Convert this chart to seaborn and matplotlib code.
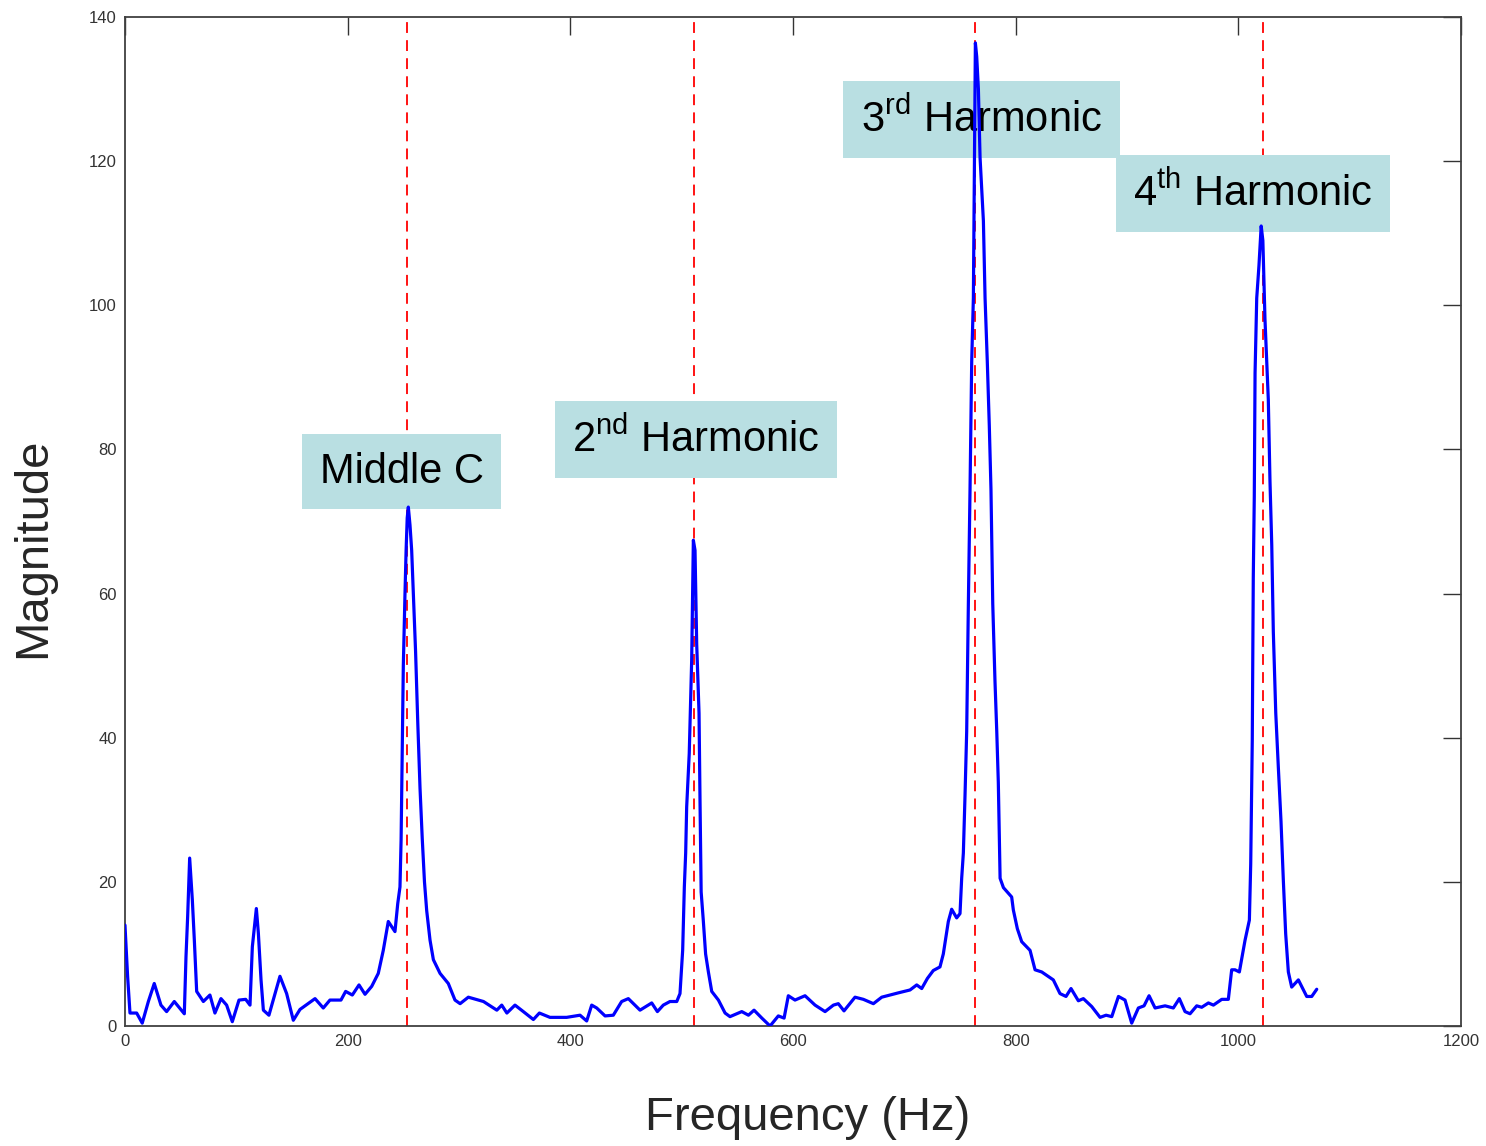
import matplotlib
matplotlib.use("Agg")
import matplotlib.pyplot as plt
import seaborn as sns

# Spectrum of a piano note
freq_hz = [
    0.0, 2.4, 4.5, 10.5, 15.5, 21.0, 26.3, 32.3, 37.4, 44.3,
    53.3, 54.8, 56.3, 58.1, 60.5, 62.3, 64.4, 70.4, 76.3, 80.8,
    86.2, 91.3, 96.4, 102.4, 108.4, 112.3, 114.4, 118.0, 119.8, 122.2,
    124.3, 129.3, 139.2, 145.2, 151.2, 157.2, 170.7, 178.1, 184.1, 194.0,
    198.2, 204.2, 210.2, 215.6, 221.6, 227.5, 232.0, 236.5, 242.5, 245.0,
    247.0, 248.0, 249.0, 250.0, 251.5, 252.5, 253.5, 254.5, 256.0, 257.5,
    259.0, 261.0, 263.0, 265.0, 267.0, 269.0, 271.0, 274.0, 277.0, 283.0,
    290.4, 296.4, 301.0, 308.4, 322.0, 334.0, 338.4, 343.0, 350.3, 357.8,
    366.8, 372.2, 381.7, 396.7, 408.7, 414.7, 419.2, 423.7, 431.2, 438.6,
    446.1, 452.1, 462.6, 473.1, 478.2, 483.5, 489.5, 495.6, 498.5, 500.9,
    502.4, 503.6, 504.5, 506.8, 509.0, 510.5, 512.0, 513.5, 515.6, 516.5,
    517.5, 519.4, 521.5, 524.0, 527.0, 533.0, 539.0, 543.4, 554.0, 560.0,
    565.0, 572.0, 579.4, 586.8, 592.0, 595.8, 601.8, 610.8, 619.8, 628.8,
    636.3, 640.7, 645.8, 655.7, 663.2, 672.2, 679.7, 694.6, 705.1, 711.1,
    715.6, 720.7, 726.0, 732.0, 735.0, 739.5, 742.5, 747.0, 750.0, 751.5,
    753.0, 754.5, 756.0, 757.5, 759.0, 760.5, 762.0, 763.0, 763.8, 765.0,
    766.5, 768.0, 771.0, 772.5, 774.5, 776.3, 777.8, 779.4, 781.4, 783.0,
    784.4, 786.0, 789.0, 796.4, 797.9, 801.5, 805.4, 812.9, 817.4, 823.4,
    833.8, 839.8, 845.2, 849.7, 856.3, 860.8, 868.3, 875.8, 881.2, 886.3,
    892.3, 898.2, 904.2, 910.2, 915.3, 919.8, 925.2, 934.2, 941.6, 947.0,
    952.1, 956.6, 962.6, 967.1, 973.1, 977.6, 985.1, 991.0, 994.0, 997.0,
    1000.9, 1006.0, 1009.9, 1011.1, 1012.5, 1013.4, 1014.3, 1015.0, 1016.5, 1018.5,
    1020.5, 1022.0, 1023.9, 1026.9, 1028.4, 1030.0, 1031.4, 1033.6, 1035.9, 1038.3,
    1040.4, 1042.5, 1044.9, 1047.9, 1053.9, 1061.4, 1065.9, 1070.4,
]
magnitude = [
    14.0, 6.8, 1.8, 1.8, 0.4, 3.4, 5.9, 2.9, 2.0, 3.4,
    1.7, 9.6, 15.2, 23.3, 17.5, 11.9, 4.8, 3.4, 4.3, 1.8,
    3.8, 2.9, 0.6, 3.6, 3.7, 2.9, 11.0, 16.3, 12.9, 6.4,
    2.2, 1.5, 6.9, 4.5, 0.8, 2.3, 3.8, 2.5, 3.6, 3.6,
    4.8, 4.3, 5.7, 4.4, 5.5, 7.3, 10.5, 14.5, 13.1, 17.0,
    19.3, 25.8, 38.0, 50.0, 60.0, 66.0, 70.5, 72.0, 69.5, 66.0,
    60.0, 52.0, 42.0, 33.0, 26.0, 20.0, 16.0, 11.9, 9.2, 7.3,
    5.9, 3.6, 3.1, 4.0, 3.4, 2.2, 2.9, 1.8, 2.9, 2.0,
    0.9, 1.8, 1.2, 1.2, 1.5, 0.7, 2.9, 2.5, 1.4, 1.5,
    3.4, 3.8, 2.2, 3.2, 2.0, 2.9, 3.4, 3.4, 4.5, 10.5,
    19.3, 24.0, 30.4, 37.8, 50.8, 67.4, 66.0, 53.0, 43.4, 31.0,
    18.6, 14.7, 10.0, 7.5, 4.8, 3.6, 1.8, 1.3, 2.0, 1.5,
    2.2, 1.1, 0.0, 1.4, 1.1, 4.2, 3.6, 4.2, 2.9, 2.0,
    2.9, 3.1, 2.1, 4.0, 3.7, 3.1, 4.0, 4.6, 5.0, 5.7,
    5.2, 6.6, 7.7, 8.2, 10.0, 14.5, 16.2, 15.0, 15.6, 20.5,
    24.0, 32.0, 40.9, 58.6, 74.5, 92.2, 101.0, 120.0, 136.4, 134.5,
    130.0, 120.5, 111.7, 101.0, 92.2, 83.3, 74.5, 58.6, 47.9, 40.9,
    33.8, 20.5, 19.2, 17.9, 16.1, 13.5, 11.7, 10.5, 7.8, 7.5,
    6.4, 4.5, 4.1, 5.2, 3.5, 3.8, 2.7, 1.2, 1.5, 1.3,
    4.1, 3.6, 0.4, 2.5, 2.8, 4.2, 2.5, 2.8, 2.5, 3.8,
    2.0, 1.7, 2.8, 2.6, 3.2, 2.9, 3.7, 3.7, 7.8, 7.8,
    7.5, 11.9, 14.7, 22.5, 39.7, 62.2, 73.4, 90.6, 101.0, 105.5,
    111.0, 109.0, 98.1, 86.9, 75.6, 66.7, 54.7, 43.4, 35.9, 28.4,
    20.2, 12.8, 7.5, 5.4, 6.4, 4.1, 4.1, 5.1,
]

harmonic_hz = [253.5, 511.0, 763.5, 1022.0]
label_texts = [
    "Middle C",
    r"2$^{\mathrm{nd}}$ Harmonic",
    r"3$^{\mathrm{rd}}$ Harmonic",
    r"4$^{\mathrm{th}}$ Harmonic",
]
label_x = [248.4, 512.9, 769.3, 1013.2]
label_y = [76.9, 81.4, 125.8, 115.5]

sns.set_theme(style="white")
plt.rcParams["font.family"] = ["Liberation Sans", "DejaVu Sans"]
plt.rcParams["mathtext.fontset"] = "custom"
plt.rcParams["mathtext.rm"] = "Liberation Sans"
plt.rcParams["mathtext.it"] = "Liberation Sans:italic"
plt.rcParams["mathtext.bf"] = "Liberation Sans:bold"

fig = plt.figure(figsize=(14.86, 11.46), dpi=100)
ax = fig.add_axes([0.0841, 0.1047, 0.8991, 0.8805])

sns.lineplot(x=freq_hz, y=magnitude, color="#0000ff", linewidth=2.3,
             sort=False, ax=ax, zorder=4)

for f in harmonic_hz:
    ax.axvline(f, color="#ff0000", linewidth=1.3, dashes=(6, 4), zorder=2)

for txt, x, y in zip(label_texts, label_x, label_y):
    ax.text(x, y, txt, ha="center", va="center", fontsize=30, color="black",
            zorder=3,
            bbox=dict(boxstyle="square,pad=0.42", fc="#b9dfe2", ec="none"))

ax.set_xlim(0, 1200)
ax.set_ylim(0, 140)
ax.set_xticks(range(0, 1201, 200))
ax.set_yticks(range(0, 141, 20))
ax.tick_params(direction="in", length=13, width=1.0, colors="#333333",
               labelsize=12, top=True, right=True, pad=6)
for sp in ax.spines.values():
    sp.set_color("#404040")
    sp.set_linewidth(1.3)

fig.text(0.5437, 0.0244, "Frequency (Hz)", ha="center", va="center", fontsize=34)
fig.text(0.0222, 0.5218, "Magnitude", ha="center", va="center",
         rotation=90, fontsize=34)

fig.savefig("out.png", dpi=100)
